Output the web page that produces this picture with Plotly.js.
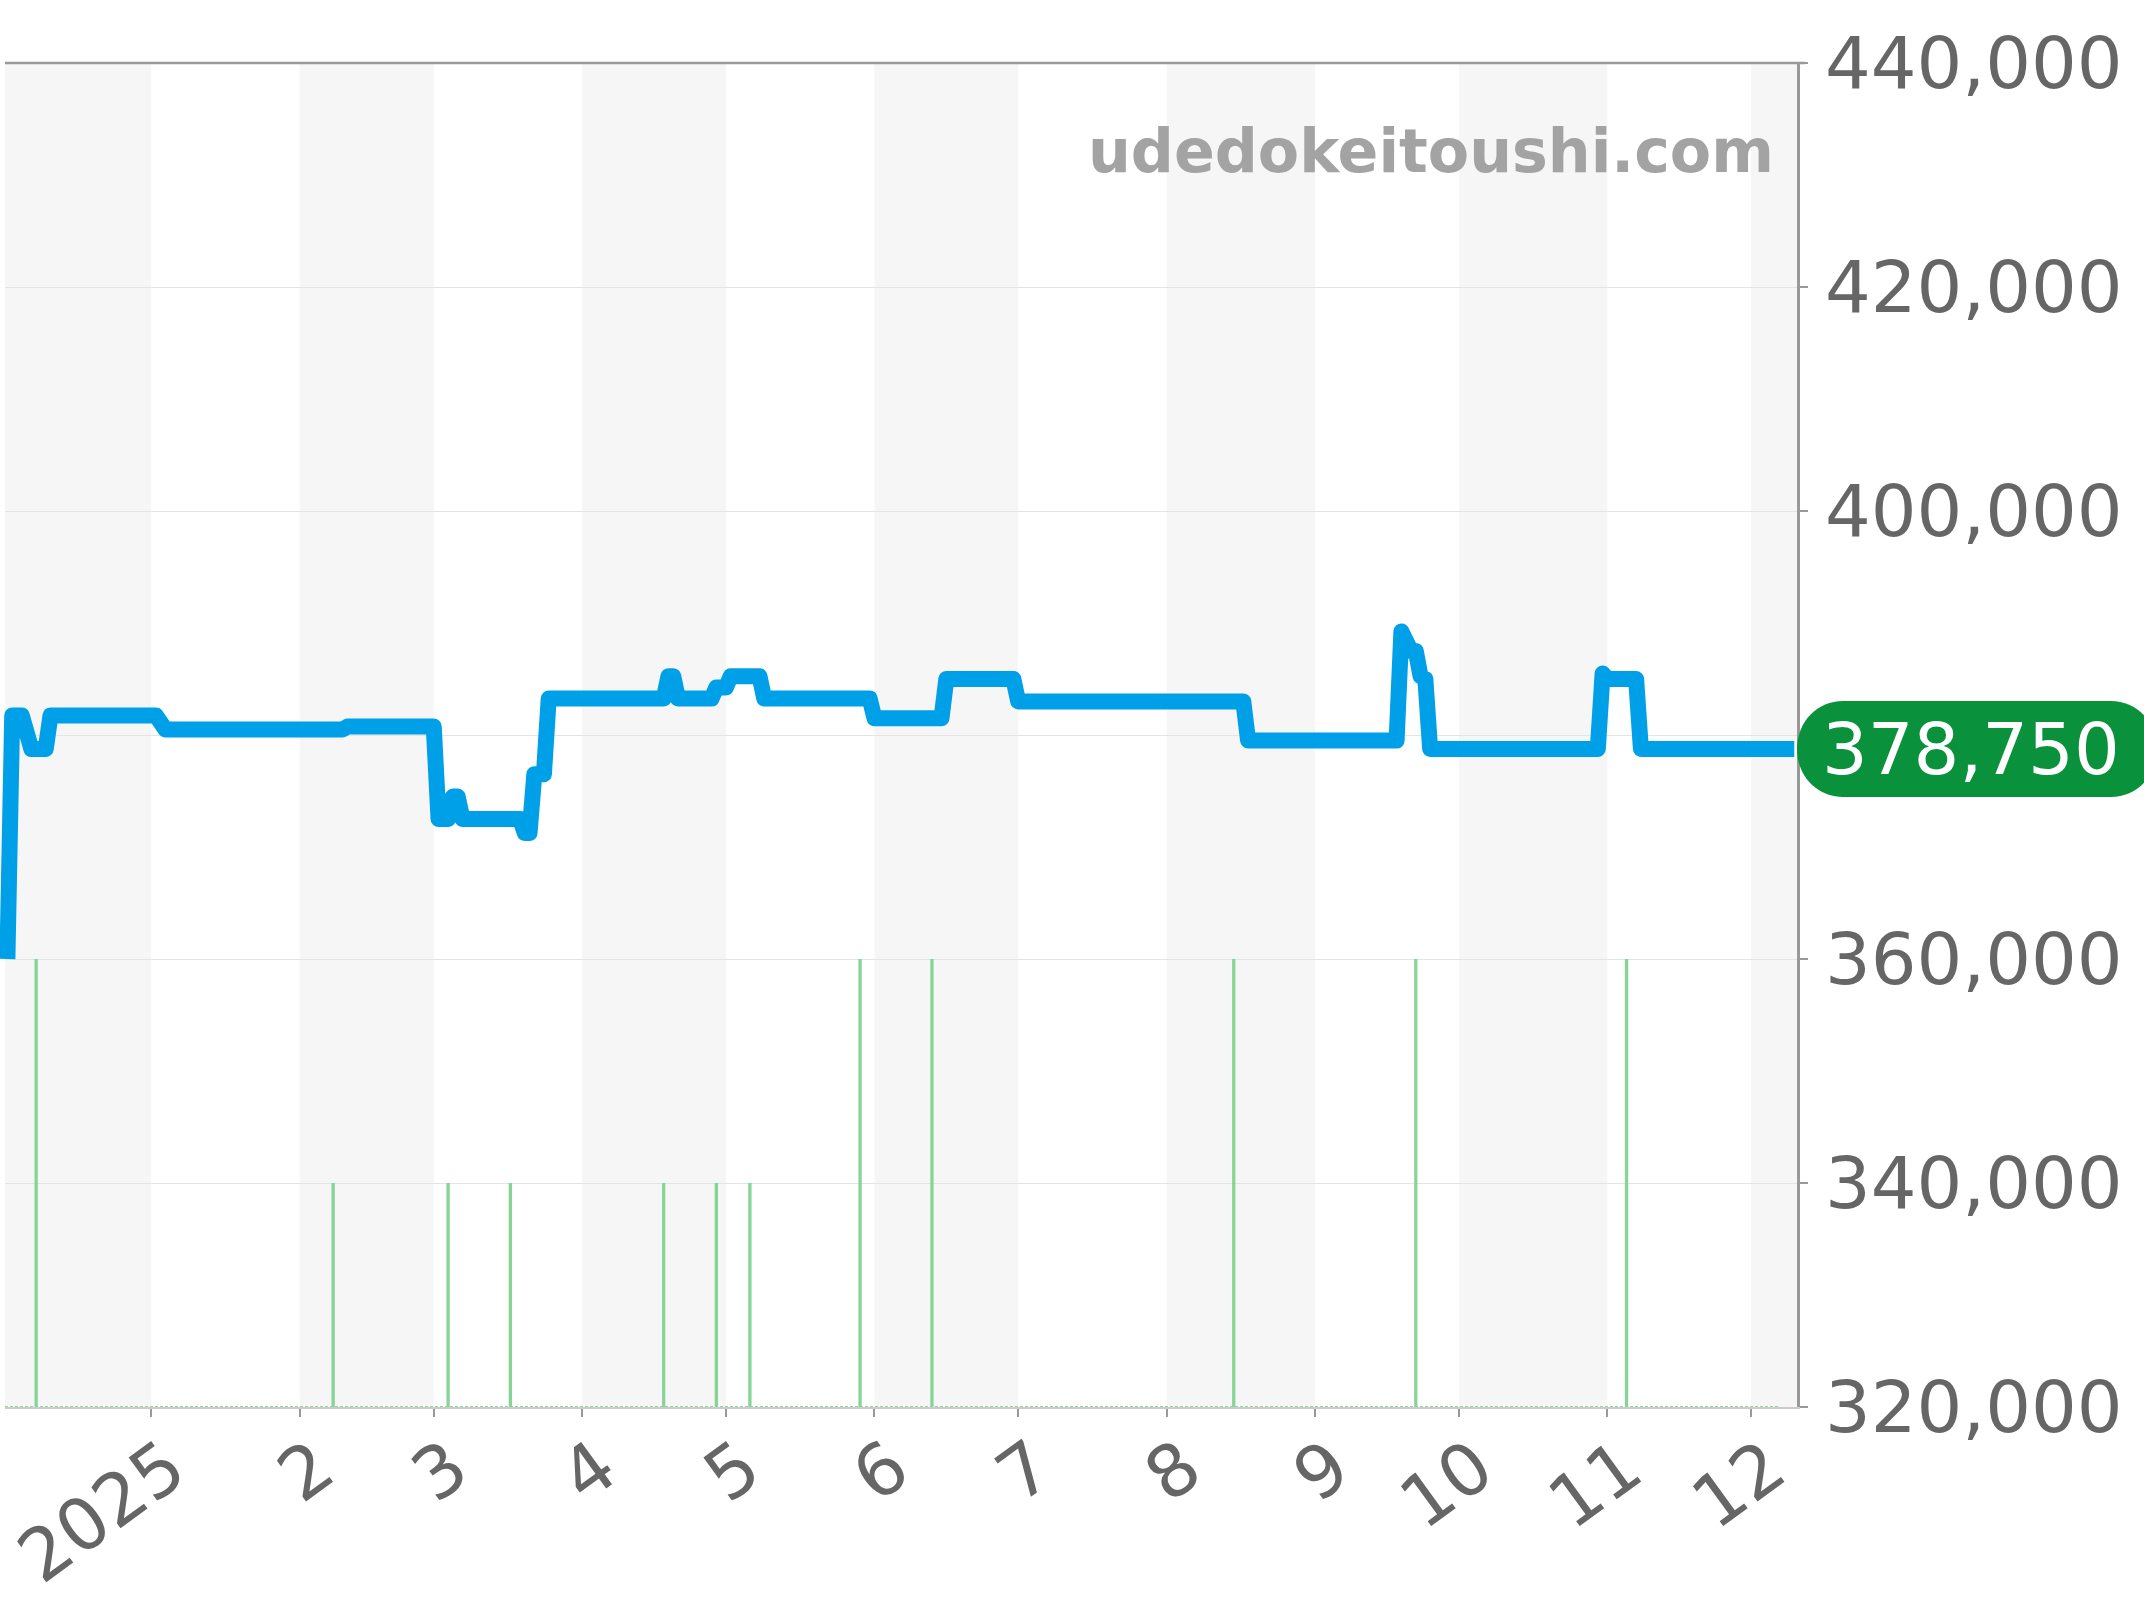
<!DOCTYPE html>
<html>
<head>
<meta charset="utf-8">
<script src="https://cdn.plot.ly/plotly-3.0.1.min.js"></script>
<style>html,body{margin:0;padding:0;background:#fff}
.js-line{stroke-linejoin:round !important}
.cartesianlayer,.cartesianlayer *{clip-path:none !important}</style>
</head>
<body>
<div id="chart" style="width:2144px;height:1600px"></div>
<script>
const priceDates = ['2024-12-02','2024-12-03','2024-12-05','2024-12-07','2024-12-10','2024-12-11','2025-01-02','2025-01-04','2025-02-10','2025-02-11','2025-03-01','2025-03-02','2025-03-04','2025-03-05','2025-03-06','2025-03-07','2025-03-19','2025-03-20','2025-03-21','2025-03-22','2025-03-24','2025-03-25','2025-04-18','2025-04-19','2025-04-20','2025-04-21','2025-04-28','2025-04-29','2025-05-01','2025-05-02','2025-05-08','2025-05-09','2025-05-31','2025-06-01','2025-06-15','2025-06-16','2025-06-30','2025-07-01','2025-08-17','2025-08-18','2025-09-18','2025-09-19','2025-09-21','2025-09-22','2025-09-23','2025-09-24','2025-09-25','2025-10-30','2025-10-31','2025-11-01','2025-11-07','2025-11-08','2025-12-10'];
const priceValues = [360000,381750,381750,378750,378750,381750,381750,380500,380500,380750,380750,372500,372500,374500,374500,372500,372500,371250,371250,376500,376500,383250,383250,385250,385250,383250,383250,384250,384250,385250,385250,383250,383250,381500,381500,385000,385000,383000,383000,379500,379500,389250,387500,387500,385250,385000,378750,378750,385500,385000,385000,378750,378750];
const saleDates = ['2024-12-08','2025-02-08','2025-03-04','2025-03-17','2025-04-18','2025-04-29','2025-05-06','2025-05-29','2025-06-13','2025-08-15','2025-09-22','2025-11-05'];
const saleLevels = [360000,340000,340000,340000,340000,340000,340000,360000,360000,360000,360000,360000];
const monthTicks = ['2025-01-01','2025-02-01','2025-03-01','2025-04-01','2025-05-01','2025-06-01','2025-07-01','2025-08-01','2025-09-01','2025-10-01','2025-11-01','2025-12-01'];
const monthLabels = ['2025','2','3','4','5','6','7','8','9','10','11','12'];
const yTicks = [320000,340000,360000,380000,400000,420000,440000];
const xRange = ['2024-12-01 12:00','2025-12-10 14:00'];
const yRange = [320000,440000];
const bandEdges = [xRange[0],'2025-01-01','2025-02-01','2025-03-01','2025-04-01','2025-05-01','2025-06-01','2025-07-01','2025-08-01','2025-09-01','2025-10-01','2025-11-01','2025-12-01',xRange[1]];
const lastPrice = priceValues[priceValues.length-1];
const lastLabel = lastPrice.toLocaleString('en-US');
const siteName = 'udedokeitoushi.com';

const FONT = '"DejaVu Sans", sans-serif';
const spikeX = [], spikeY = [];
saleDates.forEach((d,i)=>{ spikeX.push(d,d,null); spikeY.push(yRange[0],saleLevels[i],null); });

const shapes = [];
for (let i=0;i<bandEdges.length-1;i+=2){
  shapes.push({type:'rect',layer:'below',xref:'x',yref:'paper',x0:bandEdges[i],x1:bandEdges[i+1],y0:0,y1:1,fillcolor:'#f6f6f6',line:{width:0}});
}
shapes.push({type:'line',xref:'paper',yref:'paper',x0:0,x1:1.0045,y0:1,y1:1,line:{color:'#999',width:2.5}});
const labelY = (lastPrice-yRange[0])/(yRange[1]-yRange[0]);
shapes.push({type:'path',xref:'paper',yref:'paper',xsizemode:'pixel',ysizemode:'pixel',xanchor:1,yanchor:labelY,
  path:'M 0 0 C 0 28 21 48 46 48 L 314 48 C 339 48 360 28 360 0 C 360 -28 339 -48 314 -48 L 46 -48 C 21 -48 0 -28 0 0 Z',
  fillcolor:'#0a913c',line:{width:0}});

const traces = [
  {type:'scatter',mode:'lines',x:[xRange[0],'2025-12-07'],y:[yRange[0],yRange[0]],line:{color:'#90d8a0',width:2,dash:'3px,2px'},hoverinfo:'skip'},
  {type:'scatter',mode:'lines',x:spikeX,y:spikeY,line:{color:'#86d596',width:3.3},connectgaps:false,hoverinfo:'skip'},
  {type:'scatter',mode:'lines',x:priceDates,y:priceValues,cliponaxis:false,line:{color:'#00a0e9',width:16,shape:'linear'},hoverinfo:'skip'}
];

const layout = {
  width:2144,height:1600,autosize:false,showlegend:false,
  paper_bgcolor:'#fff',plot_bgcolor:'#fff',
  margin:{l:5,r:347,t:63,b:193,pad:0},
  font:{family:FONT},
  xaxis:{type:'date',range:xRange,tickmode:'array',tickvals:monthTicks,ticktext:monthLabels,tickangle:-36,
    tickfont:{family:FONT,size:72,color:'#666'},ticks:'outside',ticklen:8,tickwidth:2,tickcolor:'#999',
    ticklabelshift:18,ticklabelstandoff:-19,
    showgrid:false,showline:true,linecolor:'#ccc',linewidth:2,zeroline:false},
  yaxis:{range:yRange,side:'right',tickmode:'array',tickvals:yTicks,tickformat:',d',
    tickfont:{family:FONT,size:72,color:'#666'},ticks:'outside',ticklen:8,tickwidth:2,tickcolor:'#999',
    ticklabelstandoff:3,
    showgrid:true,gridcolor:'#e4e4e4',gridwidth:1,showline:true,linecolor:'#999',linewidth:2.5,zeroline:false},
  shapes,
  annotations:[
    {xref:'paper',yref:'paper',x:0.9833,y:0.9345,xanchor:'right',yanchor:'middle',xshift:9,showarrow:false,text:siteName,
      font:{family:FONT,size:60.2,color:'#a3a3a3',weight:700}},
    {xref:'paper',yref:'paper',x:1,y:labelY,xanchor:'left',yanchor:'middle',xshift:24,showarrow:false,text:lastLabel,
      font:{family:FONT,size:72,color:'#fff'},borderpad:0}
  ]
};
Plotly.newPlot('chart',traces,layout,{displayModeBar:false,staticPlot:true});
</script>
</body>
</html>
